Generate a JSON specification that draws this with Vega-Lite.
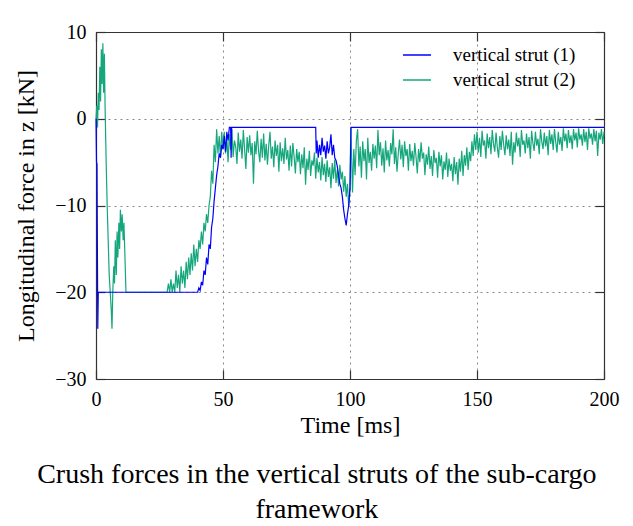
{
  "$schema": "https://vega.github.io/schema/vega-lite/v6.json",
  "autosize": {"type": "none"},
  "width": 508,
  "height": 347,
  "padding": {"left": 96, "top": 32, "right": 29, "bottom": 147},
  "background": "white",
  "title": {
    "text": ["Crush forces in the vertical struts of the sub-cargo", "framework"],
    "orient": "bottom",
    "anchor": "middle",
    "frame": "bounds",
    "offset": 24,
    "font": "Liberation Serif",
    "fontSize": 28,
    "fontWeight": "normal",
    "lineHeight": 35,
    "color": "black"
  },
  "config": {
    "font": "Liberation Serif",
    "view": {"stroke": null},
    "style": {
      "guide-label": {"font": "Liberation Serif", "fontSize": 20, "fill": "black"},
      "guide-title": {"font": "Liberation Serif", "fontSize": 24, "fontWeight": "normal", "fill": "black"}
    },
    "axis": {
      "domainColor": "#333",
      "domainWidth": 1.2,
      "tickColor": "#333",
      "tickWidth": 1.2,
      "tickSize": -9,
      "labelFont": "Liberation Serif",
      "labelFontSize": 20,
      "labelColor": "black",
      "titleFont": "Liberation Serif",
      "titleFontSize": 24,
      "titleFontWeight": "normal",
      "titleColor": "black",
      "gridColor": "#888",
      "gridDash": [2, 4],
      "gridWidth": 1
    }
  },
  "datasets": {
    "d1": [
      {"t": 0, "v": 0}, {"t": 0.2, "v": -5}, {"t": 0.4, "v": -5.2}, {"t": 0.5, "v": -12}, {"t": 0.7, "v": -24.2}, {"t": 0.9, "v": -20}, {"t": 1.2, "v": -20},
      {"t": 40, "v": -20}, {"t": 40.5, "v": -19.5}, {"t": 41, "v": -19.8}, {"t": 41.5, "v": -18.8}, {"t": 42, "v": -19.2}, {"t": 42.5, "v": -17.5},
      {"t": 43, "v": -18}, {"t": 43.5, "v": -16}, {"t": 44, "v": -16.8}, {"t": 44.5, "v": -14.5}, {"t": 45, "v": -15}, {"t": 45.5, "v": -12.5},
      {"t": 46, "v": -11.5}, {"t": 46.5, "v": -9.5}, {"t": 47, "v": -8}, {"t": 47.5, "v": -6.5}, {"t": 48, "v": -5.5}, {"t": 48.5, "v": -4},
      {"t": 49, "v": -4.5}, {"t": 49.5, "v": -3}, {"t": 50, "v": -3.5}, {"t": 50.5, "v": -2}, {"t": 51, "v": -3.8}, {"t": 51.5, "v": -1.5},
      {"t": 52, "v": -2.5}, {"t": 52.5, "v": -1}, {"t": 53, "v": -1}, {"t": 53.2, "v": -4.5}, {"t": 53.4, "v": -1},
      {"t": 86.5, "v": -1}, {"t": 86.7, "v": -4}, {"t": 87, "v": -2.5}, {"t": 87.5, "v": -4.5}, {"t": 88, "v": -3}, {"t": 88.5, "v": -4.2},
      {"t": 89, "v": -2.2}, {"t": 89.5, "v": -3.8}, {"t": 90, "v": -3.1}, {"t": 90.5, "v": -4.6}, {"t": 91, "v": -2.6}, {"t": 91.5, "v": -4},
      {"t": 92, "v": -3.3}, {"t": 92.5, "v": -1.8}, {"t": 93, "v": -4.2}, {"t": 93.5, "v": -3}, {"t": 94, "v": -4.5}, {"t": 94.5, "v": -4.8},
      {"t": 95, "v": -5.5}, {"t": 95.5, "v": -6.5}, {"t": 96, "v": -7.5}, {"t": 96.5, "v": -8}, {"t": 97, "v": -9}, {"t": 97.5, "v": -10.5},
      {"t": 98, "v": -11.5}, {"t": 98.5, "v": -12.3}, {"t": 99, "v": -11}, {"t": 99.5, "v": -10}, {"t": 100, "v": -8}, {"t": 100.4, "v": -1},
      {"t": 102.5, "v": -1}, {"t": 200, "v": -1}
    ],
    "d2": [
      {"t": 0, "v": 0}, {"t": 0.3, "v": 1.5}, {"t": 0.6, "v": -1}, {"t": 0.9, "v": 3}, {"t": 1.2, "v": 1}, {"t": 1.5, "v": 6}, {"t": 1.8, "v": 2},
      {"t": 2.1, "v": 8}, {"t": 2.4, "v": 4}, {"t": 2.7, "v": 8.7}, {"t": 3.0, "v": 3}, {"t": 3.3, "v": 7.5}, {"t": 3.6, "v": 1}, {"t": 4.0, "v": -5},
      {"t": 4.4, "v": -10}, {"t": 4.8, "v": -14}, {"t": 5.2, "v": -18}, {"t": 5.6, "v": -20}, {"t": 6.0, "v": -22}, {"t": 6.3, "v": -24.2},
      {"t": 6.6, "v": -20}, {"t": 7.0, "v": -17}, {"t": 7.3, "v": -19}, {"t": 7.6, "v": -14}, {"t": 8.0, "v": -18}, {"t": 8.3, "v": -13},
      {"t": 8.6, "v": -16}, {"t": 9.0, "v": -12}, {"t": 9.3, "v": -15}, {"t": 9.6, "v": -10.5}, {"t": 10.0, "v": -13}, {"t": 10.3, "v": -11},
      {"t": 10.7, "v": -14}, {"t": 11.0, "v": -12}, {"t": 11.4, "v": -16}, {"t": 11.8, "v": -20}, {"t": 28, "v": -20},
      {"t": 28.5, "v": -19}, {"t": 29, "v": -20}, {"t": 29.5, "v": -18.5}, {"t": 30, "v": -20}, {"t": 30.5, "v": -19}, {"t": 31, "v": -20},
      {"t": 31.5, "v": -17.5}, {"t": 32, "v": -19.5}, {"t": 32.5, "v": -18}, {"t": 33, "v": -20}, {"t": 33.5, "v": -17}, {"t": 34, "v": -19},
      {"t": 34.5, "v": -17.5}, {"t": 35, "v": -19.5}, {"t": 35.5, "v": -16.5}, {"t": 36, "v": -18.5}, {"t": 36.5, "v": -16}, {"t": 37, "v": -18},
      {"t": 37.5, "v": -15.5}, {"t": 38, "v": -17.5}, {"t": 38.5, "v": -14.5}, {"t": 39, "v": -17}, {"t": 39.5, "v": -15}, {"t": 40, "v": -16.5},
      {"t": 40.5, "v": -14}, {"t": 41, "v": -15}, {"t": 41.5, "v": -13}, {"t": 42, "v": -14.5}, {"t": 42.5, "v": -12}, {"t": 43, "v": -13},
      {"t": 43.5, "v": -11}, {"t": 44, "v": -12}, {"t": 44.5, "v": -10}, {"t": 45, "v": -9}, {"t": 45.5, "v": -6}, {"t": 46, "v": -7.5},
      {"t": 46.5, "v": -3}, {"t": 47, "v": -5}, {"t": 47.5, "v": -1.2}, {"t": 48, "v": -4}, {"t": 48.5, "v": -2}, {"t": 49, "v": -4.5},
      {"t": 49.5, "v": -1.5},
      {"t": 50, "v": -3.5}, {"t": 50.5, "v": -1.5}, {"t": 51, "v": -4}, {"t": 51.5, "v": -2.2}, {"t": 52, "v": -5}, {"t": 52.5, "v": -1.8},
      {"t": 53, "v": -3.6}, {"t": 53.5, "v": -1.2}, {"t": 54, "v": -4.4}, {"t": 54.5, "v": -2.5}, {"t": 55, "v": -3.2}, {"t": 55.5, "v": -5.2},
      {"t": 56, "v": -1.6}, {"t": 56.5, "v": -3.8}, {"t": 57, "v": -2.4}, {"t": 57.5, "v": -4.6}, {"t": 58, "v": -1.3}, {"t": 58.5, "v": -3.5},
      {"t": 59, "v": -5.8}, {"t": 59.5, "v": -2.1}, {"t": 60, "v": -3.9}, {"t": 60.5, "v": -1.9}, {"t": 61, "v": -4.2}, {"t": 61.5, "v": -2.8},
      {"t": 62, "v": -7.5}, {"t": 62.5, "v": -2.6}, {"t": 63, "v": -4.1}, {"t": 63.5, "v": -1.4}, {"t": 64, "v": -3.7}, {"t": 64.5, "v": -5},
      {"t": 65, "v": -2.3}, {"t": 65.5, "v": -4.5}, {"t": 66, "v": -1.7}, {"t": 66.5, "v": -4.8}, {"t": 67, "v": -2.9}, {"t": 67.5, "v": -5.3},
      {"t": 68, "v": -3.1}, {"t": 68.5, "v": -1.5}, {"t": 69, "v": -4.6}, {"t": 69.5, "v": -3.2}, {"t": 70, "v": -5.6}, {"t": 70.5, "v": -2.5},
      {"t": 71, "v": -4.3}, {"t": 71.5, "v": -3}, {"t": 72, "v": -6.1}, {"t": 72.5, "v": -2.7}, {"t": 73, "v": -4.9}, {"t": 73.5, "v": -3.4},
      {"t": 74, "v": -5.2}, {"t": 74.5, "v": -2.2}, {"t": 75, "v": -4.7}, {"t": 75.5, "v": -3.6}, {"t": 76, "v": -6}, {"t": 76.5, "v": -3.1},
      {"t": 77, "v": -5.5}, {"t": 77.5, "v": -2.8}, {"t": 78, "v": -4.4}, {"t": 78.5, "v": -6.3}, {"t": 79, "v": -3.5}, {"t": 79.5, "v": -5},
      {"t": 80, "v": -3.8}, {"t": 80.5, "v": -6.4}, {"t": 81, "v": -4.1}, {"t": 81.5, "v": -5.7}, {"t": 82, "v": -3.3}, {"t": 82.5, "v": -7.6},
      {"t": 83, "v": -4.6}, {"t": 83.5, "v": -5.9}, {"t": 84, "v": -3.7}, {"t": 84.5, "v": -6.6}, {"t": 85, "v": -4.8}, {"t": 85.5, "v": -5.4},
      {"t": 86, "v": -3.9}, {"t": 86.5, "v": -6.9}, {"t": 87, "v": -4.5}, {"t": 87.5, "v": -6.2}, {"t": 88, "v": -5}, {"t": 88.5, "v": -7.1},
      {"t": 89, "v": -4.4}, {"t": 89.5, "v": -6.5}, {"t": 90, "v": -5.2}, {"t": 90.5, "v": -7.3}, {"t": 91, "v": -4.8}, {"t": 91.5, "v": -6.7},
      {"t": 92, "v": -5.6}, {"t": 92.5, "v": -8}, {"t": 93, "v": -5.1}, {"t": 93.5, "v": -6.9}, {"t": 94, "v": -4.7}, {"t": 94.5, "v": -7.4},
      {"t": 95, "v": -5.9}, {"t": 95.5, "v": -7.8}, {"t": 96, "v": -5.3}, {"t": 96.5, "v": -7}, {"t": 97, "v": -6.1}, {"t": 97.5, "v": -8.4},
      {"t": 98, "v": -6.6}, {"t": 98.5, "v": -9}, {"t": 99, "v": -7.5}, {"t": 99.5, "v": -10.2}, {"t": 100, "v": -8}, {"t": 100.3, "v": -1},
      {"t": 100.6, "v": -4}, {"t": 101, "v": -8.5}, {"t": 101.5, "v": -3.5}, {"t": 102, "v": -6.5}, {"t": 102.5, "v": -2.5}, {"t": 103, "v": -1.2},
      {"t": 103.5, "v": -5.5}, {"t": 104, "v": -3.2}, {"t": 104.5, "v": -6.8}, {"t": 105, "v": -2.6}, {"t": 105.5, "v": -4.9}, {"t": 106, "v": -3.5},
      {"t": 106.5, "v": -7}, {"t": 107, "v": -2.2}, {"t": 107.5, "v": -5.1}, {"t": 108, "v": -3.8}, {"t": 108.5, "v": -6}, {"t": 109, "v": -2.9},
      {"t": 109.5, "v": -4.6}, {"t": 110, "v": -3.1}, {"t": 110.5, "v": -5.7}, {"t": 111, "v": -1.3}, {"t": 111.5, "v": -4.2}, {"t": 112, "v": -2.7},
      {"t": 112.5, "v": -5.4}, {"t": 113, "v": -3.4}, {"t": 113.5, "v": -6.2}, {"t": 114, "v": -2.5}, {"t": 114.5, "v": -4.8}, {"t": 115, "v": -3.6},
      {"t": 115.5, "v": -5.5}, {"t": 116, "v": -2.8}, {"t": 116.5, "v": -4.1}, {"t": 117, "v": -1.2}, {"t": 117.5, "v": -5.2}, {"t": 118, "v": -3.3},
      {"t": 118.5, "v": -6.1}, {"t": 119, "v": -4}, {"t": 119.5, "v": -2.4}, {"t": 120, "v": -4.7}, {"t": 120.5, "v": -3}, {"t": 121, "v": -5.6},
      {"t": 121.5, "v": -2.6}, {"t": 122, "v": -4.3}, {"t": 122.5, "v": -3.5}, {"t": 123, "v": -6}, {"t": 123.5, "v": -2.9}, {"t": 124, "v": -4.9},
      {"t": 124.5, "v": -3.7}, {"t": 125, "v": -5.4}, {"t": 125.5, "v": -2.8}, {"t": 126, "v": -4.4}, {"t": 126.5, "v": -6.3}, {"t": 127, "v": -3.5},
      {"t": 127.5, "v": -5}, {"t": 128, "v": -2.7}, {"t": 128.5, "v": -4.6}, {"t": 129, "v": -3.9}, {"t": 129.5, "v": -6.5}, {"t": 130, "v": -4.1},
      {"t": 130.5, "v": -5.3}, {"t": 131, "v": -3.2}, {"t": 131.5, "v": -5.8}, {"t": 132, "v": -4.3}, {"t": 132.5, "v": -6.6}, {"t": 133, "v": -3.6},
      {"t": 133.5, "v": -5.1}, {"t": 134, "v": -4.5}, {"t": 134.5, "v": -6.8}, {"t": 135, "v": -3.8}, {"t": 135.5, "v": -5.5}, {"t": 136, "v": -4.2},
      {"t": 136.5, "v": -7}, {"t": 137, "v": -4.9}, {"t": 137.5, "v": -5.9}, {"t": 138, "v": -3.9}, {"t": 138.5, "v": -6.7}, {"t": 139, "v": -4.6},
      {"t": 139.5, "v": -6}, {"t": 140, "v": -5.2}, {"t": 140.5, "v": -7.2}, {"t": 141, "v": -4.4}, {"t": 141.5, "v": -6.4}, {"t": 142, "v": -5},
      {"t": 142.5, "v": -7.6}, {"t": 143, "v": -4.6}, {"t": 143.5, "v": -6.1}, {"t": 144, "v": -3.7}, {"t": 144.5, "v": -6.6}, {"t": 145, "v": -4.2},
      {"t": 145.5, "v": -5.4}, {"t": 146, "v": -3.3}, {"t": 146.5, "v": -5.9}, {"t": 147, "v": -3.8}, {"t": 147.5, "v": -4.9}, {"t": 148, "v": -2.6},
      {"t": 148.5, "v": -4.3}, {"t": 149, "v": -1.8}, {"t": 149.5, "v": -3.6}, {"t": 150, "v": -1.5}, {"t": 150.5, "v": -3.9}, {"t": 151, "v": -2.2},
      {"t": 151.5, "v": -4.4}, {"t": 152, "v": -1.4}, {"t": 152.5, "v": -3.1}, {"t": 153, "v": -2.5}, {"t": 153.5, "v": -4.6}, {"t": 154, "v": -1.7},
      {"t": 154.5, "v": -3.4}, {"t": 155, "v": -2.1}, {"t": 155.5, "v": -4.1}, {"t": 156, "v": -1.3}, {"t": 156.5, "v": -2.9}, {"t": 157, "v": -3.8},
      {"t": 157.5, "v": -1.6}, {"t": 158, "v": -3.3}, {"t": 158.5, "v": -4.5}, {"t": 159, "v": -2}, {"t": 159.5, "v": -3.6}, {"t": 160, "v": -1.4},
      {"t": 160.5, "v": -3}, {"t": 161, "v": -4.2}, {"t": 161.5, "v": -1.9}, {"t": 162, "v": -3.5}, {"t": 162.5, "v": -2.4}, {"t": 163, "v": -4.3},
      {"t": 163.5, "v": -1.5}, {"t": 164, "v": -5.3}, {"t": 164.5, "v": -2.7}, {"t": 165, "v": -3.9}, {"t": 165.5, "v": -1.6}, {"t": 166, "v": -3.2},
      {"t": 166.5, "v": -2.2}, {"t": 167, "v": -4.4}, {"t": 167.5, "v": -1.3}, {"t": 168, "v": -3}, {"t": 168.5, "v": -2.5}, {"t": 169, "v": -4},
      {"t": 169.5, "v": -1.7}, {"t": 170, "v": -3.4}, {"t": 170.5, "v": -2.1}, {"t": 171, "v": -4.6}, {"t": 171.5, "v": -1.4}, {"t": 172, "v": -2.8},
      {"t": 172.5, "v": -3.7}, {"t": 173, "v": -1.5}, {"t": 173.5, "v": -3.1}, {"t": 174, "v": -2.3}, {"t": 174.5, "v": -4.1}, {"t": 175, "v": -1.2},
      {"t": 175.5, "v": -2.6}, {"t": 176, "v": -3.5}, {"t": 176.5, "v": -1.6}, {"t": 177, "v": -3.2}, {"t": 177.5, "v": -2}, {"t": 178, "v": -4.2},
      {"t": 178.5, "v": -1.3}, {"t": 179, "v": -2.9}, {"t": 179.5, "v": -1.8}, {"t": 180, "v": -3.6}, {"t": 180.5, "v": -1.2}, {"t": 181, "v": -2.7},
      {"t": 181.5, "v": -3.9}, {"t": 182, "v": -1.5}, {"t": 182.5, "v": -3}, {"t": 183, "v": -2.1}, {"t": 183.5, "v": -3.7}, {"t": 184, "v": -1.1},
      {"t": 184.5, "v": -2.6}, {"t": 185, "v": -1.7}, {"t": 185.5, "v": -3.4}, {"t": 186, "v": -1.3}, {"t": 186.5, "v": -2.8}, {"t": 187, "v": -1.9},
      {"t": 187.5, "v": -3.5}, {"t": 188, "v": -1.2}, {"t": 188.5, "v": -2.5}, {"t": 189, "v": -1.6}, {"t": 189.5, "v": -3.3}, {"t": 190, "v": -1.1},
      {"t": 190.5, "v": -2.4}, {"t": 191, "v": -1.8}, {"t": 191.5, "v": -3.1}, {"t": 192, "v": -1.2}, {"t": 192.5, "v": -2.7}, {"t": 193, "v": -1.5},
      {"t": 193.5, "v": -3.6}, {"t": 194, "v": -1.1}, {"t": 194.5, "v": -2.3}, {"t": 195, "v": -1.7}, {"t": 195.5, "v": -3}, {"t": 196, "v": -1.2},
      {"t": 196.5, "v": -2.6}, {"t": 197, "v": -1.4}, {"t": 197.5, "v": -4.3}, {"t": 198, "v": -1.6}, {"t": 198.5, "v": -2.4}, {"t": 199, "v": -1.2},
      {"t": 199.5, "v": -2.9}, {"t": 200, "v": -1.5}
    ]
  },
  "resolve": {"axis": {"x": "independent", "y": "independent"}},
  "layer": [
    {
      "data": {"name": "d2"},
      "mark": {"type": "line", "strokeWidth": 1.2, "interpolate": "linear"},
      "encoding": {
        "x": {"field": "t", "type": "quantitative", "scale": {"domain": [0, 200], "nice": false},
              "axis": {"orient": "top", "labels": false, "grid": false, "title": null, "values": [0, 50, 100, 150, 200]}},
        "y": {"field": "v", "type": "quantitative", "scale": {"domain": [-30, 10], "nice": false},
              "axis": {"orient": "right", "labels": false, "grid": false, "title": null, "values": [-30, -20, -10, 0, 10]}},
        "color": {"datum": "vertical strut (2)", "type": "nominal",
                  "scale": {"domain": ["vertical strut (1)", "vertical strut (2)"], "range": ["#0000ff", "#15a77b"]},
                  "legend": {"orient": "none", "legendX": 306, "legendY": 8, "title": null, "padding": 0,
                             "symbolType": "stroke", "symbolSize": 784, "symbolStrokeWidth": 1.5,
                             "labelFont": "Liberation Serif", "labelFontSize": 19, "labelColor": "black",
                             "labelOffset": 21, "rowPadding": -5}}
      }
    },
    {
      "data": {"name": "d1"},
      "mark": {"type": "line", "strokeWidth": 1.2, "interpolate": "linear"},
      "encoding": {
        "x": {"field": "t", "type": "quantitative",
              "axis": {"orient": "bottom", "title": "Time [ms]", "grid": true, "values": [0, 50, 100, 150, 200],
                       "labelPadding": 19, "titlePadding": 4, "labelFlush": false}},
        "y": {"field": "v", "type": "quantitative",
              "axis": {"orient": "left", "title": "Longitudinal force in z [kN]", "grid": true, "values": [-30, -20, -10, 0, 10],
                       "labelPadding": 19, "titlePadding": 16}},
        "color": {"datum": "vertical strut (1)", "type": "nominal"}
      }
    }
  ]
}
